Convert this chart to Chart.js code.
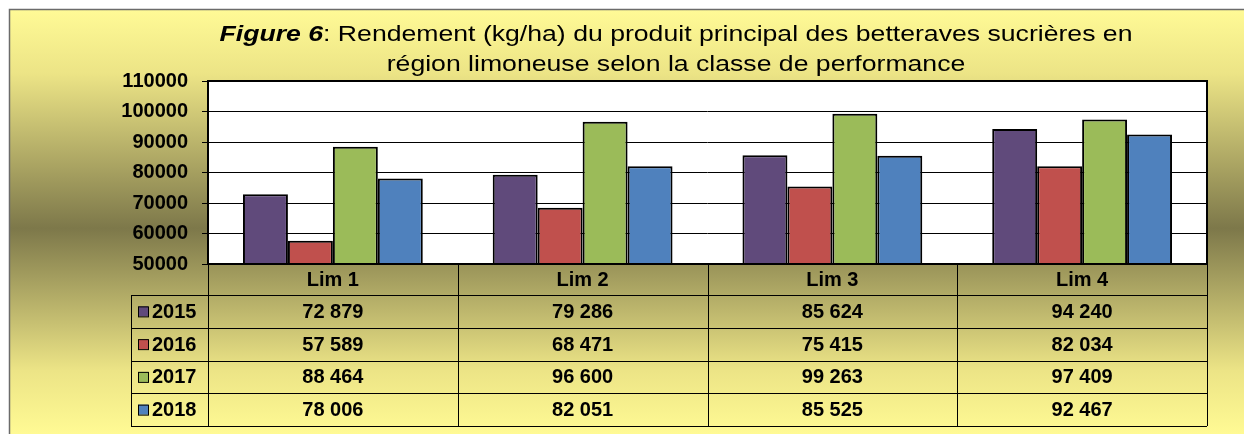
<!DOCTYPE html>
<html>
<head>
<meta charset="utf-8">
<script src="https://cdn.jsdelivr.net/npm/chart.js@4/dist/chart.umd.min.js"></script>
<style>
  html, body { margin: 0; padding: 0; background: #fff; }
  canvas { display: block; }
</style>
</head>
<body>
<canvas id="chart" width="1244" height="434"></canvas>
<script>
// data
const categories = ['Lim 1', 'Lim 2', 'Lim 3', 'Lim 4'];
const years = ['2015', '2016', '2017', '2018'];
const data2015 = [72879, 79286, 85624, 94240];
const data2016 = [57589, 68471, 75415, 82034];
const data2017 = [88464, 96600, 99263, 97409];
const data2018 = [78006, 82051, 85525, 92467];
const yTicks = [50000, 60000, 70000, 80000, 90000, 100000, 110000];

const colours = ['#604a7b', '#c0504d', '#9bbb59', '#4f81bd'];
const FONT = '"Liberation Sans", Arial, sans-serif';

function spaced(n) {
  return String(n).replace(/\B(?=(\d{3})+(?!\d))/g, ' ');
}

// gradient box + white plot area
const backdrop = {
  id: 'backdrop',
  beforeDraw(chart) {
    const ctx = chart.ctx;
    const a = chart.chartArea;
    ctx.save();
    const g = ctx.createLinearGradient(0, 10, 0, 434);
    g.addColorStop(0, '#fffa96');
    g.addColorStop(0.15, '#ece486');
    g.addColorStop(0.515, '#7d784a');
    g.addColorStop(0.85, '#ece486');
    g.addColorStop(1, '#fffa94');
    ctx.fillStyle = g;
    ctx.fillRect(9, 9, 1244, 434);
    ctx.strokeStyle = '#6b6b6b';
    ctx.lineWidth = 1.5;
    ctx.beginPath();
    ctx.moveTo(9.5, 434);
    ctx.lineTo(9.5, 9.5);
    ctx.lineTo(1244, 9.5);
    ctx.stroke();
    ctx.fillStyle = '#ffffff';
    ctx.fillRect(a.left, a.top, a.right - a.left, a.bottom - a.top);
    ctx.restore();
  }
};

// title in two lines, "Figure 6" bold italic, a bit wide like the original
const titleLines = {
  id: 'titleLines',
  afterDraw(chart) {
    const ctx = chart.ctx;
    const cx = 676;
    const sx = 1.21;
    ctx.save();
    ctx.translate(cx, 0);
    ctx.scale(sx, 1);
    ctx.fillStyle = '#000';
    ctx.textBaseline = 'alphabetic';
    const p1 = 'Figure 6';
    const p2 = ': Rendement (kg/ha) du produit principal des betteraves sucrières en';
    ctx.font = 'italic bold 22px ' + FONT;
    const w1 = ctx.measureText(p1).width;
    ctx.font = '22px ' + FONT;
    const w2 = ctx.measureText(p2).width;
    let x = -(w1 + w2) / 2;
    ctx.textAlign = 'left';
    ctx.font = 'italic bold 22px ' + FONT;
    ctx.fillText(p1, x, 41);
    ctx.font = '22px ' + FONT;
    ctx.fillText(p2, x + w1, 41);
    ctx.textAlign = 'center';
    ctx.fillText('région limoneuse selon la classe de performance', 0, 71);
    ctx.restore();
  }
};

// plot frame and data table below the bars
const dataTable = {
  id: 'dataTable',
  afterDraw(chart) {
    const ctx = chart.ctx;
    const a = chart.chartArea;
    const xs = chart.scales.x;
    const n = categories.length;
    const cw = (a.right - a.left) / n;
    const top = a.bottom;
    const headH = 31;
    const rowH = 32.75;
    const legL = 131;
    const bottom = top + headH + rowH * years.length;
    const rows = [data2015, data2016, data2017, data2018];

    ctx.save();
    // frame
    ctx.strokeStyle = '#000';
    ctx.lineWidth = 2;
    ctx.strokeRect(a.left, a.top, a.right - a.left, a.bottom - a.top);

    // table grid
    ctx.lineWidth = 1;
    ctx.beginPath();
    for (let i = 0; i <= n; i++) {
      const x = Math.round(a.left + i * cw) + 0.5;
      ctx.moveTo(x, top);
      ctx.lineTo(x, bottom);
    }
    ctx.moveTo(legL + 0.5, top + headH);
    ctx.lineTo(legL + 0.5, bottom);
    for (let r = 0; r <= years.length; r++) {
      const y = Math.round(top + headH + r * rowH) + 0.5;
      ctx.moveTo(legL, y);
      ctx.lineTo(a.right, y);
    }
    ctx.stroke();

    ctx.fillStyle = '#000';
    ctx.font = 'bold 20px ' + FONT;
    ctx.textAlign = 'center';
    ctx.textBaseline = 'middle';
    categories.forEach((c, i) => {
      const x = xs.getPixelForValue(i);
      ctx.fillText(c, x, top + headH / 2 + 1);
      rows.forEach((row, r) => {
        ctx.fillText(spaced(row[i]), x, top + headH + r * rowH + rowH / 2 + 1);
      });
    });

    // legend keys
    years.forEach((yr, r) => {
      const cy = top + headH + r * rowH + rowH / 2;
      ctx.fillStyle = colours[r];
      ctx.fillRect(138, cy - 5, 10, 10);
      ctx.strokeStyle = '#000';
      ctx.lineWidth = 1;
      ctx.strokeRect(138.5, cy - 4.5, 10, 10);
      ctx.fillStyle = '#000';
      ctx.textAlign = 'left';
      ctx.fillText(yr, 152, cy + 1);
    });
    ctx.restore();
  }
};

const series = [data2015, data2016, data2017, data2018];

new Chart(document.getElementById('chart').getContext('2d'), {
  type: 'bar',
  data: {
    labels: categories,
    datasets: series.map((d, i) => ({
      label: years[i],
      data: d,
      backgroundColor: colours[i],
      borderColor: '#000',
      borderWidth: 2,
      borderSkipped: 'bottom',
      categoryPercentage: 0.72,
      barPercentage: 1.0
    }))
  },
  options: {
    responsive: false,
    animation: false,
    layout: { padding: { left: 0, top: 81, right: 37, bottom: 170 } },
    plugins: {
      legend: { display: false },
      title: { display: false },
      tooltip: { enabled: false }
    },
    scales: {
      x: {
        display: false
      },
      y: {
        min: yTicks[0],
        max: yTicks[yTicks.length - 1],
        afterFit(s) { s.width = 208; },
        afterBuildTicks(s) { s.ticks = yTicks.map(v => ({ value: v })); },
        border: { display: false },
        grid: {
          color: '#000',
          lineWidth: 1,
          tickLength: 6,
          drawTicks: true
        },
        ticks: {
          color: '#000',
          padding: 14,
          font: { family: FONT, size: 20, weight: 'bold' },
          callback: v => String(v)
        }
      }
    }
  },
  plugins: [backdrop, titleLines, dataTable]
});
</script>
</body>
</html>
